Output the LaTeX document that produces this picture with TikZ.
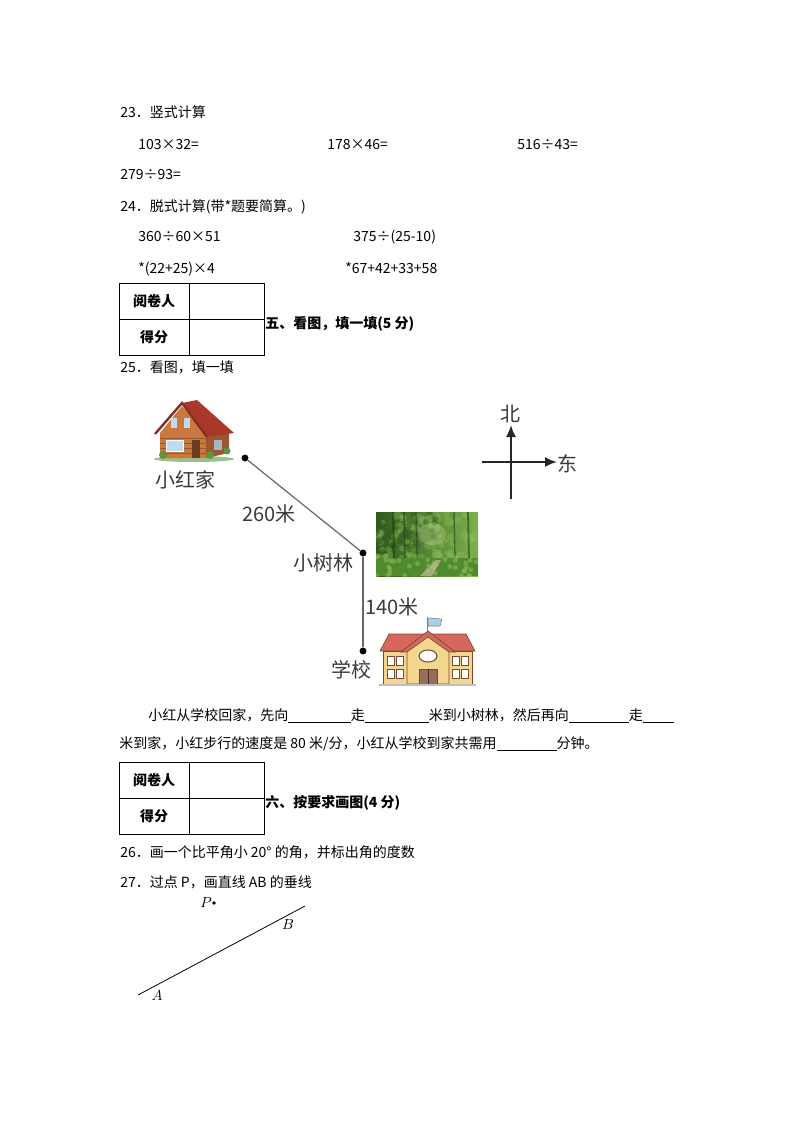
\documentclass[tikz,border=0pt]{standalone}
\usepackage{fontspec}
\setmainfont{Noto Sans CJK SC}
\usepackage{tikz}
\usetikzlibrary{arrows,arrows.meta}

\definecolor{roofred}{HTML}{A9382B}
\definecolor{woodbrown}{HTML}{C9783E}
\definecolor{woodside}{HTML}{9A5630}
\definecolor{glassblue}{HTML}{BFDCEF}
\definecolor{bushgreen}{HTML}{5E9440}
\definecolor{forestdark}{HTML}{2F5A1E}
\definecolor{forestmid}{HTML}{4F8A2E}
\definecolor{forestlight}{HTML}{8FC05A}
\definecolor{forestpale}{HTML}{C6E09A}
\definecolor{trailtan}{HTML}{B9B68C}
\definecolor{schoolroof}{HTML}{D5675C}
\definecolor{schoolwall}{HTML}{F4D78E}
\definecolor{schoolline}{HTML}{7A4A35}
\definecolor{flagblue}{HTML}{A8D0E6}
\definecolor{labelgray}{HTML}{3A3A3A}

\newcommand{\blank}[1]{\underline{\hspace{#1}}}

\tikzset{
  txt/.style={anchor=base west, inner sep=0pt, font=\fontsize{10.5}{12}\selectfont},
  cell/.style={inner sep=0pt, font=\fontsize{10.5}{12}\selectfont\bfseries},
  maplabel/.style={inner sep=0pt, text=labelgray, font=\fontsize{15}{17}\selectfont},
  dot/.style={circle, fill=black, inner sep=0pt, minimum size=5.2pt},
  road/.style={draw=black!60, line width=0.9pt},
  axis/.style={draw=black!85, line width=1.4pt, -{Latex[length=9pt, width=7.5pt]}},
  pointlabel/.style={inner sep=0pt, font=\fontsize{10.5}{12}\selectfont},
}

\begin{document}
\begin{tikzpicture}[x=0.75pt, y=-0.75pt]
\useasboundingbox (0,0) rectangle (794,1123);

% 23
\node[txt] (Q23) at (120,118) {23．竖式计算};
\node[txt] (c1) at (138,150) {103×32=};
\node[txt] (c2) at (327,150) {178×46=};
\node[txt] (c3) at (517,150) {516÷43=};
\node[txt] (c4) at (120,180) {279÷93=};

% 24
\node[txt] (Q24) at (120,212) {24．脱式计算(带*题要简算。)};
\node[txt] (e1) at (138,242) {360÷60×51};
\node[txt] (e2) at (353,242) {375÷(25-10)};
\node[txt] (e3) at (138,273) {*(22+25)×4};
\node[txt] (e4) at (345,273) {*67+42+33+58};

% score tables
\foreach \ty/\title in {283/{五、看图，填一填(5 分)}, 762/{六、按要求画图(4 分)}} {
  \draw[line width=0.6pt] (119,\ty) rectangle (264,\ty+72);
  \draw[line width=0.6pt] (189,\ty) -- (189,\ty+72);
  \draw[line width=0.6pt] (119,\ty+36) -- (264,\ty+36);
  \node[cell] (judge\ty) at (154,\ty+18) {阅卷人};
  \node[cell] (score\ty) at (154,\ty+54) {得分};
  \node[txt, font=\fontsize{10.5}{12}\selectfont\bfseries] (part\ty) at (265,\ty+45) {\title};
}

% 25
\node[txt] (Q25) at (120,372) {25．看图，填一填};

% house
\fill[bushgreen!60] (194,459) ellipse [x radius=40, y radius=3];
\fill[woodbrown] (160,433) -- (182,406) -- (206,435) -- (206,458) -- (160,458) -- cycle;
\fill[woodside] (206,435) -- (229,432) -- (229,453) -- (206,458) -- cycle;
\fill[roofred] (182,403) -- (197,400) -- (234,433) -- (207,437) -- cycle;
\draw[roofred!80!black, line width=1.8pt] (155,434) -- (182,403) -- (207,437);
\foreach \py in {438,443,...,456} \draw[woodside, line width=0.3pt] (160,\py) -- (206,\py);
\fill[glassblue] (171,418) rectangle (177,428);
\fill[glassblue] (184,418) rectangle (190,428);
\fill[glassblue, draw=white, line width=0.6pt] (166,440) rectangle (183,451);
\fill[woodside!70!black] (192,440) rectangle (200,458);
\fill[glassblue!60!gray] (214,440) rectangle (222,450);
\fill[bushgreen] (163,455) circle (4);
\fill[bushgreen] (210,455) circle (4);
\fill[bushgreen] (227,451) circle (3.5);

% forest
\begin{scope}
  \clip (376,512) rectangle (478,576);
  \shade[left color=forestdark, right color=forestlight!70!forestmid] (376,512) rectangle (478,576);
  \pgfmathsetseed{11}
  \foreach \i in {1,...,90} {
    \pgfmathsetmacro\fx{376+102*rnd}
    \pgfmathsetmacro\fy{512+64*rnd}
    \pgfmathsetmacro\fr{2+3.5*rnd}
    \fill[forestlight, opacity=0.35] (\fx,\fy) circle (\fr);
  }
  \foreach \i in {1,...,40} {
    \pgfmathsetmacro\fx{376+60*rnd}
    \pgfmathsetmacro\fy{512+45*rnd}
    \fill[forestdark, opacity=0.45] (\fx,\fy) circle (3);
  }
  \fill[forestpale, opacity=0.3] (432,534) ellipse [x radius=14, y radius=11];
  \foreach \tx/\tw in {393/1.6, 404/1.2, 416/1.0, 454/1.0, 468/1.4} {
    \draw[forestdark!70!black, opacity=0.6, line width=\tw pt] (\tx,512) -- (\tx+1,560);
  }
  \fill[forestmid] (376,558) rectangle (478,576);
  \foreach \i in {1,...,40} {
    \pgfmathsetmacro\fx{376+102*rnd}
    \pgfmathsetmacro\fy{556+20*rnd}
    \fill[forestlight, opacity=0.5] (\fx,\fy) circle (2.5);
  }
  \fill[trailtan, opacity=0.8] (420,576) -- (436,560) -- (441,560) -- (432,576) -- cycle;
\end{scope}

% school
\draw[gray, line width=0.6pt] (427,634) -- (427,617);
\fill[flagblue, draw=gray, line width=0.4pt] (428,618) -- (442,619) -- (440,626) -- (428,626) -- cycle;
\fill[schoolroof, draw=schoolline, line width=0.5pt] (380,651) -- (389,634) -- (466,634) -- (475,651) -- cycle;
\fill[schoolwall, draw=schoolline, line width=0.5pt] (383,651) rectangle (472,684);
\fill[schoolroof, draw=schoolline, line width=0.5pt] (401,652) -- (428,631) -- (455,652) -- cycle;
\fill[schoolwall, draw=schoolline, line width=0.5pt] (407,652) -- (428,637) -- (449,652) -- (449,684) -- (407,684) -- cycle;
\fill[white, draw=schoolline, line width=0.8pt] (428,656) ellipse [x radius=9, y radius=6];
\fill[schoolline!80, draw=schoolline, line width=0.5pt] (419,669) rectangle (437,684);
\draw[schoolline!60!black, line width=0.4pt] (428,669) -- (428,684);
\foreach \wx in {387,396,452,461} {
  \foreach \wy in {656,669} {
    \fill[white, draw=schoolline, line width=0.4pt] (\wx,\wy) rectangle ++(7,9);
  }
}
\draw[gray!50, line width=0.8pt] (379,685) -- (476,685);

% map
\node[dot] (home) at (245,458) {};
\node[dot] (wood) at (363,553) {};
\node[dot] (school) at (363,651) {};
\path[road] (home) edge (wood)
            (wood) edge (school);
\node[maplabel] (homename) at (185,480) {小红家};
\node[maplabel] (d1) at (269,514) {260米};
\node[maplabel] (woodname) at (323,563) {小树林};
\node[maplabel] (d2) at (392,607) {140米};
\node[maplabel] (schoolname) at (351,670) {学校};

% compass
\node[maplabel] (north) at (510,414) {北};
\node[maplabel] (east) at (567,464) {东};
\coordinate (south) at (511,499);
\coordinate (west) at (482,462);
\draw[axis] (south) -- (511,425);
\draw[axis] (west) -- (557,462);

% fill in
\node[txt] (fill1) at (148,720) {小红从学校回家，先向\blank{47pt}走\blank{48pt}米到小树林，然后再向\blank{45pt}走\blank{23pt}};
\node[txt] (fill2) at (119,748) {米到家，小红步行的速度是 80 米/分，小红从学校到家共需用\blank{45pt}分钟。};

% 26, 27
\node[txt] (Q26) at (120,857) {26．画一个比平角小 20° 的角，并标出角的度数};
\node[txt] (Q27) at (120,887) {27．过点 P，画直线 AB 的垂线};

\coordinate (A) at (138,995);
\coordinate (B) at (305,906);
\draw[line width=0.6pt] (A) -- (B);
\node[dot, minimum size=2.8pt] (P) at (214,903) {};
\node[pointlabel] (Pname) at (206,903) {$P$};
\node[pointlabel] (Bname) at (288,925) {$B$};
\node[pointlabel] (Aname) at (157,995) {$A$};
\end{tikzpicture}
\end{document}
